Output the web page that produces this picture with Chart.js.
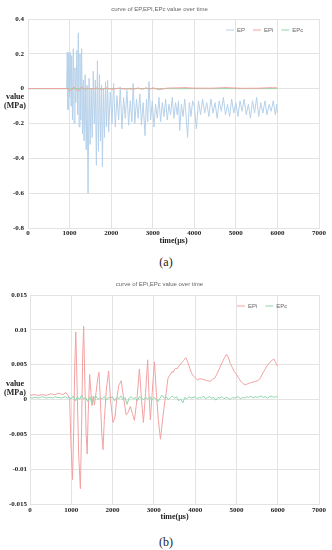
<!DOCTYPE html>
<html lang="en">
<head>
<meta charset="UTF-8">
<title>EP, EPi, EPc value over time</title>
<script src="https://cdn.jsdelivr.net/npm/chart.js"></script>
<style>
    body { margin: 0; background: #fff; }
    .wrap { position: relative; width: 332px; height: 550px; }
    canvas { position: absolute; left: 0; }
    #chartA { top: 0; }
    #chartB { top: 275px; }
    .cap {
        position: absolute; left: 0; width: 332px; text-align: center;
        font-family: 'Liberation Serif', serif; font-size: 12px; color: #222;
    }
</style>
</head>
<body>
<div class="wrap">
    <canvas id="chartA" width="332" height="250"></canvas>
    <div class="cap" style="top:255px">(a)</div>
    <canvas id="chartB" width="332" height="250"></canvas>
    <div class="cap" style="top:535px">(b)</div>
</div>

<script>
// EP (MPa) vs time (µs)
const epTime = [
    0, 300, 600, 900, 930, 945, 960, 980, 1000, 1015,
    1035, 1050, 1070, 1090, 1110, 1130, 1150, 1175, 1195, 1210,
    1230, 1250, 1270, 1290, 1310, 1330, 1350, 1375, 1400, 1420,
    1445, 1470, 1495, 1520, 1545, 1570, 1595, 1620, 1645, 1670,
    1695, 1720, 1745, 1770, 1790, 1815, 1840, 1865, 1890, 1915,
    1940, 1980, 2020, 2060, 2100, 2140, 2180, 2220, 2260, 2300,
    2340, 2380, 2420, 2460, 2500, 2530, 2570, 2610, 2650, 2690,
    2730, 2770, 2815, 2850, 2880, 2910, 2950, 2990, 3030, 3070,
    3110, 3150, 3190, 3230, 3270, 3310, 3350, 3390, 3430, 3470,
    3510, 3550, 3590, 3620, 3650, 3690, 3730, 3770, 3800, 3840,
    3880, 3920, 3960, 4000, 4050, 4100, 4150, 4200, 4250, 4300,
    4350, 4400, 4450, 4500, 4550, 4600, 4650, 4700, 4750, 4800,
    4850, 4900, 4950, 5000, 5050, 5100, 5150, 5200, 5250, 5300,
    5350, 5400, 5450, 5500, 5550, 5600, 5650, 5700, 5750, 5800,
    5850, 5900, 5950, 5980, 6000
];
const epValue = [
    0, 0, 0, 0, 0, 0.21, -0.12, 0.20, -0.05, 0.21,
    -0.10, 0.19, -0.18, 0.23, -0.20, 0.12, -0.08, 0.22, -0.15, 0.32,
    -0.22, 0.20, -0.18, 0.23, -0.26, 0.05, -0.30, 0.08, -0.35, 0.02,
    -0.60, 0.06, -0.32, 0.00, -0.28, 0.10, -0.20, 0.05, -0.44, 0.16,
    -0.36, 0.08, -0.30, 0.02, -0.45, 0.00, -0.28, 0.04, -0.22, 0.05,
    -0.25, -0.02, -0.20, 0.03, -0.22, -0.04, -0.18, 0.01, -0.23, -0.05,
    -0.17, -0.01, -0.21, -0.07, -0.19, 0.03, -0.20, -0.06, -0.17, -0.03,
    -0.21, -0.08, -0.27, -0.06, -0.19, 0.04, -0.18, -0.07, -0.22, -0.09,
    -0.17, -0.05, -0.19, -0.08, -0.16, -0.06, -0.18, -0.09, -0.15, -0.05,
    -0.17, -0.08, -0.15, -0.07, -0.24, -0.09, -0.16, -0.06, -0.15, -0.28,
    -0.08, -0.16, -0.07, -0.10, -0.23, -0.07, -0.15, -0.06, -0.14, -0.08,
    -0.16, -0.06, -0.14, -0.08, -0.17, -0.07, -0.13, -0.05, -0.15, -0.09,
    -0.16, -0.06, -0.14, -0.08, -0.16, -0.07, -0.13, -0.06, -0.15, -0.09,
    -0.17, -0.07, -0.14, -0.05, -0.16, -0.08, -0.14, -0.07, -0.15, -0.09,
    -0.13, -0.07, -0.15, -0.09, -0.14
];

// EPi (MPa) vs time (µs)
const epiTime = [
    0, 100, 200, 300, 400, 500, 600, 700, 800, 870,
    920, 960, 990, 1030, 1060, 1085, 1110, 1140, 1180, 1220,
    1250, 1275, 1300, 1330, 1360, 1385, 1410, 1445, 1475, 1505,
    1530, 1560, 1600, 1640, 1670, 1700, 1740, 1768, 1800, 1850,
    1905, 1950, 2010, 2060, 2100, 2150, 2210, 2260, 2330, 2380,
    2430, 2480, 2530, 2590, 2650, 2700, 2747, 2800, 2850, 2880,
    2915, 2960, 3015, 3060, 3110, 3160, 3210, 3260, 3300, 3340,
    3375, 3410, 3440, 3470, 3500, 3530, 3560, 3600, 3640, 3680,
    3720, 3775, 3820, 3870, 3920, 3970, 4020, 4060, 4120, 4180,
    4240, 4300, 4360, 4420, 4480, 4540, 4600, 4660, 4710, 4760,
    4800, 4850, 4900, 4950, 5000, 5060, 5120, 5180, 5240, 5280,
    5340, 5400, 5460, 5520, 5580, 5640, 5700, 5760, 5820, 5880,
    5910, 5950, 5990
];
const epiValue = [
    0.0006, 0.0007, 0.0006, 0.0007, 0.0006, 0.0008, 0.0007, 0.0009, 0.0007, 0.0010,
    0.0006, 0.0002, -0.006, -0.0115, -0.004, 0.005, 0.0097, 0.002, -0.008, -0.0128,
    -0.004, 0.006, 0.0105, 0.002, -0.005, -0.0078, -0.002, 0.0036, 0.001, -0.0009,
    0.0005, -0.0008, 0.001, 0.0030, 0.0039, 0.0005, -0.005, -0.0072, -0.003, 0.0015,
    0.0041, 0.000, -0.0033, -0.0025, 0.000, 0.0020, 0.0027, 0.0005, -0.0022, -0.0018,
    -0.001, -0.002, -0.0030, 0.000, 0.0044, 0.000, -0.0033, 0.001, 0.0057, 0.001,
    -0.0029, 0.001, 0.0054, 0.001, -0.003, -0.0057, -0.003, -0.0005, 0.0010, 0.0030,
    0.0034, 0.0037, 0.0040, 0.0039, 0.0043, 0.0045, 0.0044, 0.0048, 0.0050, 0.0053,
    0.0056, 0.0060, 0.0054, 0.0045, 0.0037, 0.0033, 0.0030, 0.0028, 0.0030, 0.0029,
    0.0028, 0.0027, 0.0026, 0.0029, 0.0031, 0.0038, 0.0046, 0.0054, 0.0060, 0.0065,
    0.0061, 0.0052, 0.0046, 0.0040, 0.0036, 0.0030, 0.0025, 0.0022, 0.0021, 0.0023,
    0.0024, 0.0025, 0.0026, 0.0027, 0.0031, 0.0038, 0.0044, 0.0050, 0.0054, 0.0057,
    0.0058, 0.0053, 0.0048
];

// EPc (MPa) vs time (µs)
const epcTime = [
    0, 50, 100, 150, 200, 250, 300, 350, 400, 450, 500, 550, 600, 650, 700, 750, 800, 850, 900, 950,
    1000, 1050, 1100, 1150, 1200, 1250, 1300, 1350, 1400, 1450, 1500, 1550, 1600, 1650, 1700, 1750, 1800, 1850, 1900, 1950,
    2000, 2050, 2100, 2150, 2200, 2250, 2300, 2350, 2400, 2450, 2500, 2550, 2600, 2650, 2700, 2750, 2800, 2850, 2900, 2950,
    3000, 3050, 3100, 3150, 3200, 3250, 3300, 3350, 3400, 3450, 3500, 3550, 3600, 3650, 3700, 3750, 3800, 3850, 3900, 3950,
    4000, 4050, 4100, 4150, 4200, 4250, 4300, 4350, 4400, 4450, 4500, 4550, 4600, 4650, 4700, 4750, 4800, 4850, 4900, 4950,
    5000, 5050, 5100, 5150, 5200, 5250, 5300, 5350, 5400, 5450, 5500, 5550, 5600, 5650, 5700, 5750, 5800, 5850, 5900, 5950,
    6000
];
const epcValue = [
    0.0003, 0.0002, 0.0003, 0.0003, 0.0002, 0.0003, 0.0004, 0.0003, 0.0002, 0.0003, 0.0003, 0.0002, 0.0004, 0.0003, 0.0003, 0.0002, 0.0003, 0.0004, 0.0002, 0.0003,
    0.0001, 0.0005, -0.0002, 0.0004, 0.0000, 0.0006, 0.0001, 0.0003, -0.0003, 0.0004, -0.0006, 0.0002, 0.0005, 0.0000, 0.0003, 0.0001, 0.0004, -0.0001, 0.0003, 0.0002,
    0.0004, -0.0002, 0.0003, 0.0001, 0.0005, 0.0000, 0.0003, -0.0007, 0.0002, 0.0004, 0.0001, 0.0003, -0.0002, 0.0004, 0.0002, 0.0000, 0.0003, 0.0001, 0.0004, -0.0001,
    0.0003, 0.0001, -0.0003, 0.0002, 0.0006, 0.0002, 0.0004, 0.0000, 0.0003, 0.0005, 0.0002, 0.0004, -0.0002, 0.0001, -0.0005, 0.0003, 0.0001, 0.0004, 0.0002, 0.0003,
    0.0004, 0.0001, 0.0003, 0.0002, 0.0005, 0.0001, 0.0003, 0.0004, 0.0002, 0.0003, -0.0001, 0.0003, 0.0002, 0.0004, 0.0001, 0.0003, 0.0002, 0.0000, 0.0003, 0.0002,
    0.0003, 0.0004, 0.0001, 0.0003, 0.0002, 0.0004, 0.0003, 0.0005, 0.0002, 0.0004, 0.0003, 0.0004, 0.0005, 0.0003, 0.0004, 0.0002, 0.0004, 0.0005, 0.0003, 0.0004,
    0.0004
];

const colors = { EP: '#b6d1ea', EPi: '#f2a2a2', EPc: '#90d6ab' };
const serif = "'Liberation Serif', 'Times New Roman', serif";
const sans = "'Liberation Sans', Arial, sans-serif";

function toPoints(xs, ys) {
    return xs.map((x, i) => ({ x: x, y: ys[i] }));
}

function series(label, xs, ys, order) {
    return {
        label: label,
        data: toPoints(xs, ys),
        borderColor: colors[label],
        backgroundColor: colors[label],
        borderWidth: 1,
        pointRadius: 0,
        tension: 0,
        order: order
    };
}

// small horizontal legend drawn inside the plot
const lineLegend = {
    id: 'lineLegend',
    afterDraw(chart, args, opts) {
        const ctx = chart.ctx;
        ctx.save();
        ctx.font = '6px ' + sans;
        ctx.textBaseline = 'middle';
        let x = opts.x;
        chart.data.datasets.forEach(ds => {
            ctx.strokeStyle = ds.borderColor;
            ctx.lineWidth = 1;
            ctx.beginPath();
            ctx.moveTo(x, opts.y);
            ctx.lineTo(x + 8, opts.y);
            ctx.stroke();
            x += 11;
            ctx.fillStyle = '#666';
            ctx.fillText(ds.label, x, opts.y);
            x += ctx.measureText(ds.label).width + 8;
        });
        ctx.restore();
    }
};

// "value (MPa)" written flat next to the y axis
const sideTitle = {
    id: 'sideTitle',
    afterDraw(chart, args, opts) {
        const ctx = chart.ctx;
        ctx.save();
        ctx.font = 'bold 8px ' + serif;
        ctx.fillStyle = '#222';
        ctx.textAlign = 'center';
        ctx.textBaseline = 'middle';
        opts.lines.forEach((t, i) => ctx.fillText(t, opts.x, opts.y + i * 9));
        ctx.restore();
    }
};

function makeChart(id, cfg) {
    return new Chart(document.getElementById(id), {
        type: 'line',
        data: { datasets: cfg.datasets },
        options: {
            responsive: false,
            animation: false,
            layout: { padding: { left: 0, right: 13, top: 0, bottom: 0 } },
            plugins: {
                legend: { display: false },
                tooltip: { enabled: false },
                title: {
                    display: true,
                    text: cfg.title,
                    color: '#666',
                    font: { family: sans, size: 6, weight: 'normal' },
                    padding: { top: 6, bottom: cfg.titleGap }
                },
                lineLegend: { x: cfg.legendX, y: cfg.legendY },
                sideTitle: { x: 15, y: cfg.sideY, lines: ['value', '(MPa)'] }
            },
            scales: {
                x: {
                    type: 'linear',
                    min: 0, max: 7000,
                    afterFit(scale) { scale.height = cfg.xHeight; },
                    grid: { color: '#e3e3e3', drawTicks: false },
                    border: { color: '#e3e3e3' },
                    ticks: {
                        stepSize: 1000, maxRotation: 0, autoSkip: false,
                        padding: cfg.xPad,
                        color: '#222',
                        font: { family: serif, size: 7, weight: 'bold' },
                        callback: v => String(v)
                    },
                    title: {
                        display: true,
                        text: 'time(μs)',
                        color: '#222',
                        font: { family: serif, size: 8, weight: 'bold' },
                        padding: { top: 0, bottom: cfg.xTitlePad }
                    }
                },
                y: {
                    min: cfg.yMin, max: cfg.yMax,
                    afterFit(scale) { scale.width = cfg.yWidth; },
                    grid: { color: '#e3e3e3', drawTicks: false },
                    border: { color: '#e3e3e3' },
                    ticks: {
                        stepSize: cfg.yStep,
                        padding: cfg.yPad,
                        color: '#222',
                        font: { family: serif, size: 7, weight: 'bold' },
                        callback: v => String(+v.toFixed(4))
                    }
                }
            }
        },
        plugins: [lineLegend, sideTitle]
    });
}

makeChart('chartA', {
    title: 'curve of EP,EPI,EPc value over time',
    datasets: [
        series('EP', epTime, epValue, 3),
        series('EPi', epiTime, epiValue, 1),
        series('EPc', epcTime, epcValue, 2)
    ],
    yMin: -0.8, yMax: 0.4, yStep: 0.2,
    titleGap: 5.8, xHeight: 22, xPad: 1, xTitlePad: 4,
    yWidth: 28, yPad: 4,
    legendX: 226, legendY: 30, sideY: 97
});

makeChart('chartB', {
    title: 'curve of EPi,EPc value over time',
    datasets: [
        series('EPi', epiTime, epiValue, 2),
        series('EPc', epcTime, epcValue, 1)
    ],
    yMin: -0.015, yMax: 0.015, yStep: 0.005,
    titleGap: 6.8, xHeight: 21, xPad: 2, xTitlePad: 3,
    yWidth: 30, yPad: 3,
    legendX: 237, legendY: 31, sideY: 109
});
</script>
</body>
</html>
